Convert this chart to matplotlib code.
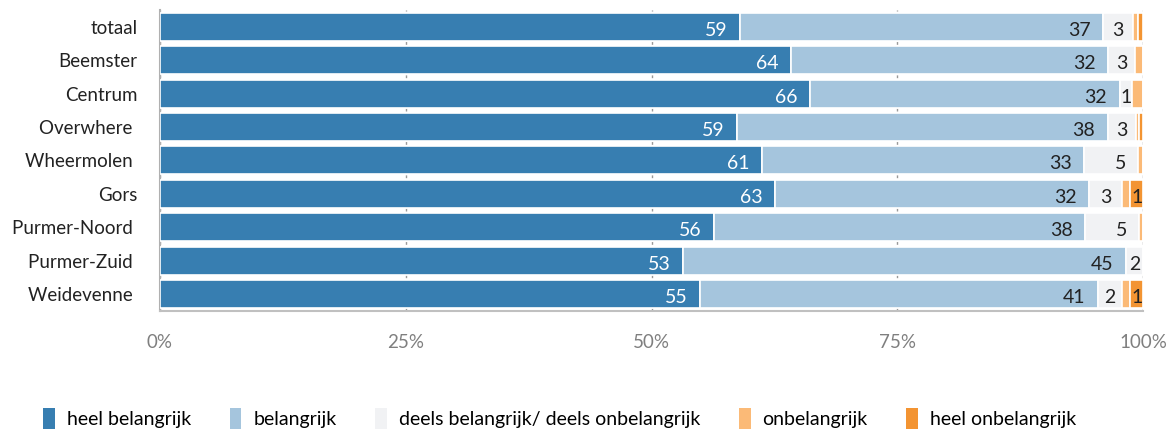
import matplotlib
matplotlib.use("Agg")
import matplotlib.pyplot as plt
import numpy as np
from matplotlib.patches import Patch

plt.rcParams['font.family'] = ['Lato', 'DejaVu Sans']

categories = ["totaal", "Beemster", "Centrum", "Overwhere ", "Wheermolen ", "Gors",
              "Purmer-Noord ", "Purmer-Zuid ", "Weidevenne "]
series_names = ["heel belangrijk", "belangrijk", "deels belangrijk/ deels onbelangrijk",
                "onbelangrijk", "heel onbelangrijk"]
heel_belangrijk = [59.0, 64.2, 66.1, 58.7, 61.2, 62.6, 56.4, 53.2, 54.9]
belangrijk = [36.9, 32.2, 31.5, 37.7, 32.8, 31.9, 37.7, 45.0, 40.5]
deels = [3.1, 2.8, 1.3, 2.9, 5.5, 3.3, 5.5, 1.8, 2.4]
onbelangrijk = [0.5, 0.8, 1.1, 0.3, 0.5, 0.9, 0.4, 0.0, 0.9]
heel_onbelangrijk = [0.5, 0.0, 0.0, 0.4, 0.0, 1.3, 0.0, 0.0, 1.3]

labels_hb = ["59", "64", "66", "59", "61", "63", "56", "53", "55"]
labels_b = ["37", "32", "32", "38", "33", "32", "38", "45", "41"]
labels_d = ["3", "3", "1", "3", "5", "3", "5", "2", "2"]
labels_o = ["", "", "", "", "", "", "", "", ""]
labels_ho = ["", "", "", "", "", "1", "", "", "1"]

colors = ["#377EB1", "#A5C5DD", "#F1F2F4", "#FBBA77", "#F39432"]
text_colors = ["white", "#222222", "#222222", "#222222", "#222222"]

series = [heel_belangrijk, belangrijk, deels, onbelangrijk, heel_onbelangrijk]
labels = [labels_hb, labels_b, labels_d, labels_o, labels_ho]

fig = plt.figure(figsize=(11.75, 4.36), dpi=100)
ax = fig.add_axes([0.136, 0.287, 0.837, 0.69])

y = np.arange(len(categories))
left = np.zeros(len(categories))
for vals, col, tc, labs in zip(series, colors, text_colors, labels):
    vals = np.array(vals)
    ax.barh(y, vals, left=left, height=0.84, color=col, edgecolor="white", linewidth=1.2, zorder=3)
    for i, (v, l) in enumerate(zip(vals, labs)):
        if l:
            if v >= 3.5:
                ax.annotate(l, xy=(left[i] + v, y[i]), xytext=(-9, -2.5), textcoords="offset points",
                            ha="right", va="center", color=tc, fontsize=14, zorder=4)
            else:
                ax.annotate(l, xy=(left[i] + v / 2, y[i]), xytext=(0, -2.5), textcoords="offset points",
                            ha="center", va="center", color=tc, fontsize=14, zorder=4)
    left = left + vals

ax.set_xlim(0, 100)
ax.set_ylim(len(categories) - 0.5, -0.5)
ax.set_yticks(y)
ax.set_yticklabels(categories, fontsize=13.5, color="#222222")
ax.set_xticks([0, 25, 50, 75, 100])
ax.set_xticklabels(["0%", "25%", "50%", "75%", "100%"], fontsize=13.5, color="#7f7f7f")
ax.tick_params(axis="both", length=0)
ax.tick_params(axis="x", pad=17)
ax.tick_params(axis="y", pad=16)
ax.xaxis.grid(True, color="#999999", linestyle=(0, (2, 2)), linewidth=1, zorder=0)
for s in ["top", "right"]:
    ax.spines[s].set_visible(False)
ax.spines["left"].set_color("#b0b0b0")
ax.spines["bottom"].set_color("#c0c0c0")
ax.spines["left"].set_linewidth(1.5)
ax.spines["bottom"].set_linewidth(1.5)

handles = [Patch(facecolor=c, edgecolor="none") for c in colors]
fig.legend(handles, series_names, loc="lower left", bbox_to_anchor=(0.022, -0.025), ncol=5,
           frameon=False, fontsize=14, handlelength=0.6, handleheight=1.3, handletextpad=0.6,
           columnspacing=2.0)

fig.savefig("out.png", dpi=100)
